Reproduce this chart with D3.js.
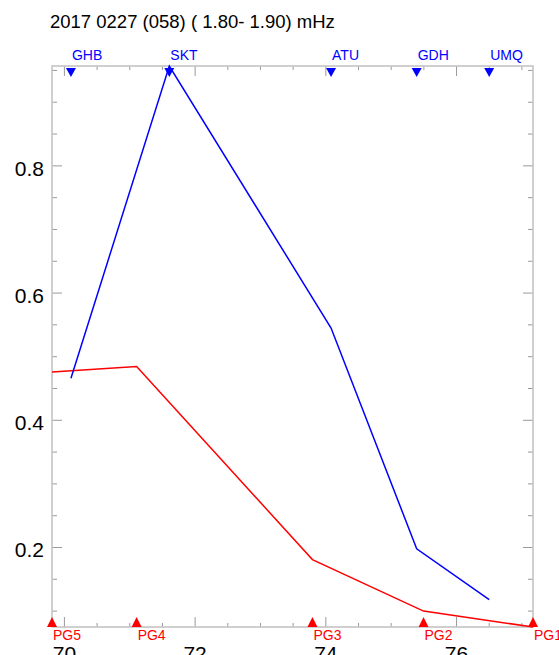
<!DOCTYPE html>
<html>
<head>
<meta charset="utf-8">
<script src="https://cdn.jsdelivr.net/npm/d3@7"></script>
<style>
  body { margin: 0; background: #fff; }
  svg { display: block; font-family: Helvetica, Arial, "Liberation Sans", sans-serif; }
</style>
</head>
<body>
<svg id="chart"></svg>
<script>
const title = "2017 0227 (058) ( 1.80- 1.90) mHz";

// stations along the top (blue) and their values
const stations = ["GHB", "SKT", "ATU", "GDH", "UMQ"];
const stationX = [70.10, 71.605, 74.08, 75.39, 76.50];
const stationVal = [0.466, 0.957, 0.545, 0.198, 0.118];

// points along the bottom (red) and their values
const pgNames = ["PG5", "PG4", "PG3", "PG2", "PG1"];
const pgX = [69.81, 71.105, 73.795, 75.495, 77.17];
const pgVal = [0.476, 0.4845, 0.181, 0.100, 0.075];

const xTicks = [70, 72, 74, 76];
const yTicks = [0.2, 0.4, 0.6, 0.8];

const width = 559, height = 655;
const margin = { top: 66, right: 26, bottom: 28, left: 52 };

const svg = d3.select("#chart").attr("width", width).attr("height", height);

const blue = stations.map((s, i) => ({ name: s, x: stationX[i], v: stationVal[i] }));
const red = pgNames.map((s, i) => ({ name: s, x: pgX[i], v: pgVal[i] }));
const all = blue.concat(red);

const xScale = d3.scaleLinear()
  .domain(d3.extent(all, (d) => d.x))
  .range([margin.left, width - margin.right]);
const yScale = d3.scaleLinear()
  .domain(d3.extent(all, (d) => d.v))
  .range([height - margin.bottom, margin.top]);

const x0 = xScale.range()[0], x1 = xScale.range()[1];
const y0 = yScale.range()[0], y1 = yScale.range()[1];

// minor tick values
const xMinor = d3.range(70, 77.01, 0.5).filter((v) => v >= xScale.domain()[0] && v <= xScale.domain()[1]);
const yMinor = d3.range(0.1, 0.951, 0.05).map((v) => +v.toFixed(2))
  .filter((v) => v >= yScale.domain()[0] && v <= yScale.domain()[1]);

const tickColor = "#9a9a9a";
const axes = svg.append("g");

function isMajor(v, list) {
  return list.some((t) => Math.abs(t - v) < 1e-6);
}

// bottom and top x ticks
axes.selectAll(".xb").data(xMinor).join("line")
  .attr("x1", (d) => xScale(d)).attr("x2", (d) => xScale(d))
  .attr("y1", y0).attr("y2", (d) => y0 - (isMajor(d, xTicks) ? 10 : 4))
  .attr("stroke", tickColor).attr("stroke-width", 1);
axes.selectAll(".xt").data(xMinor).join("line")
  .attr("x1", (d) => xScale(d)).attr("x2", (d) => xScale(d))
  .attr("y1", y1).attr("y2", (d) => y1 + (isMajor(d, xTicks) ? 10 : 4))
  .attr("stroke", tickColor).attr("stroke-width", 1);

// left and right y ticks
axes.selectAll(".yl").data(yMinor).join("line")
  .attr("y1", (d) => yScale(d)).attr("y2", (d) => yScale(d))
  .attr("x1", x0).attr("x2", (d) => x0 + (isMajor(d, yTicks) ? 10 : 5))
  .attr("stroke", tickColor).attr("stroke-width", 1);
axes.selectAll(".yr").data(yMinor).join("line")
  .attr("y1", (d) => yScale(d)).attr("y2", (d) => yScale(d))
  .attr("x1", x1).attr("x2", (d) => x1 - (isMajor(d, yTicks) ? 10 : 5))
  .attr("stroke", tickColor).attr("stroke-width", 1);

// frame
axes.append("rect")
  .attr("x", x0).attr("y", y1)
  .attr("width", x1 - x0).attr("height", y0 - y1)
  .attr("fill", "none").attr("stroke", "#c4c4c4").attr("stroke-width", 1.6);

// tick labels
axes.selectAll(".ylab").data(yTicks).join("text")
  .attr("x", 44).attr("y", (d) => yScale(d) + 10)
  .attr("text-anchor", "end").attr("font-size", 21).attr("fill", "#000")
  .text((d) => d.toFixed(1));
axes.selectAll(".xlab").data(xTicks).join("text")
  .attr("x", (d) => xScale(d)).attr("y", 661)
  .attr("text-anchor", "middle").attr("font-size", 21).attr("fill", "#000")
  .text((d) => d);

// title
svg.append("text")
  .attr("x", 50).attr("y", 28)
  .attr("font-size", 18.5).attr("fill", "#000")
  .text(title);

const line = d3.line().x((d) => xScale(d.x)).y((d) => yScale(d.v));

svg.append("path").datum(red)
  .attr("d", line).attr("fill", "none")
  .attr("stroke", "#ff0000").attr("stroke-width", 1.5);
svg.append("path").datum(blue)
  .attr("d", line).attr("fill", "none")
  .attr("stroke", "#0000ff").attr("stroke-width", 1.5);

// station markers (down triangles at top)
svg.selectAll(".smark").data(blue).join("path")
  .attr("d", (d) => {
    const cx = xScale(d.x);
    return `M${cx - 5},${y1 + 2}L${cx + 5},${y1 + 2}L${cx},${y1 + 11}Z`;
  })
  .attr("fill", "#0000ff");
svg.selectAll(".slab").data(blue).join("text")
  .attr("x", (d) => xScale(d.x) + 1).attr("y", 60)
  .attr("font-size", 14).attr("fill", "#0000ff")
  .text((d) => d.name);

// PG markers (up triangles at bottom)
svg.selectAll(".pmark").data(red).join("path")
  .attr("d", (d) => {
    const cx = xScale(d.x);
    return `M${cx - 5},${y0}L${cx + 5},${y0}L${cx},${y0 - 10}Z`;
  })
  .attr("fill", "#ff0000");
svg.selectAll(".plab").data(red).join("text")
  .attr("x", (d) => xScale(d.x) + 1).attr("y", 640)
  .attr("font-size", 14).attr("fill", "#ff0000")
  .text((d) => d.name);
</script>
</body>
</html>
